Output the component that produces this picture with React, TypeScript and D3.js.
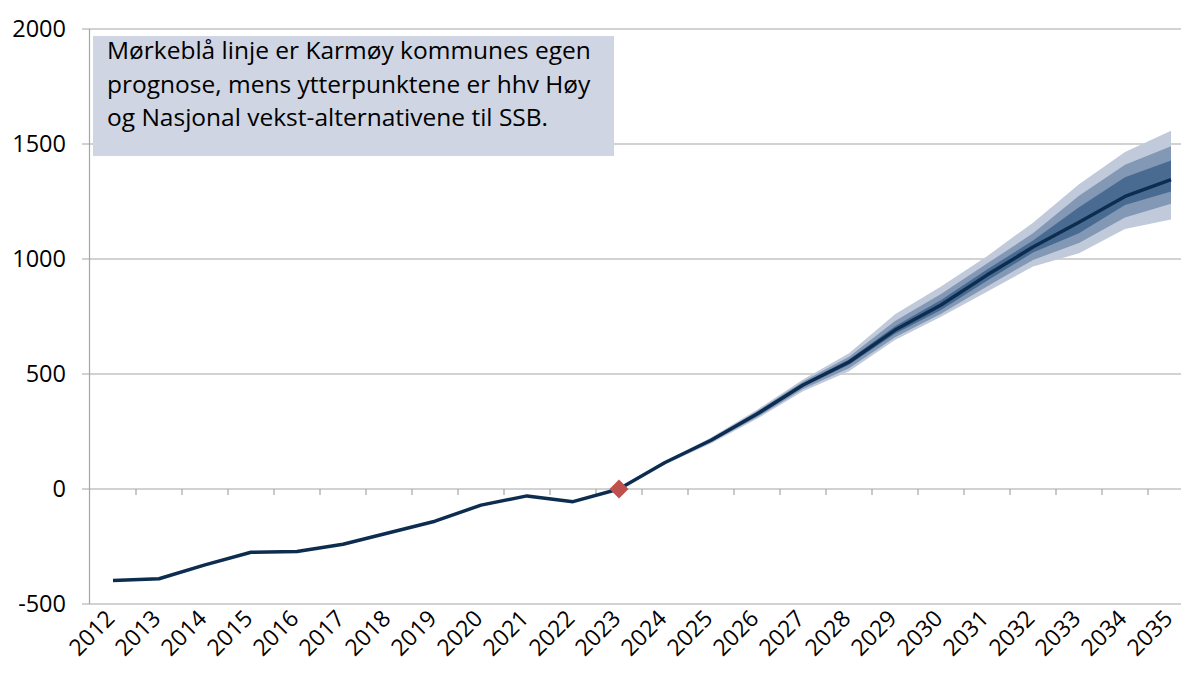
import React from "react";
import * as d3 from "d3";

const years = d3.range(2012, 2036).map(String);
const actual = [-398, -390, -330, -275, -272, -240, -190, -140, -70, -30, -55, 0];
const forecastYears = d3.range(2023, 2036).map(String);
const forecast = [0, 115, 212, 326, 452, 552, 691, 800, 930, 1052, 1160, 1272, 1345];
const outerHigh = [0, 120, 224, 345, 476, 590, 760, 880, 1012, 1158, 1325, 1465, 1558];
const midHigh = [0, 118, 219, 338, 467, 575, 730, 848, 980, 1112, 1275, 1410, 1490];
const darkHigh = [0, 116, 215, 332, 459, 563, 708, 822, 954, 1080, 1225, 1355, 1428];
const darkLow = [0, 113, 208, 320, 445, 540, 675, 778, 905, 1028, 1112, 1235, 1293];
const midLow = [0, 110, 203, 312, 435, 525, 660, 762, 880, 996, 1070, 1180, 1240];
const outerLow = [0, 107, 198, 305, 425, 512, 648, 749, 858, 967, 1025, 1130, 1172];
const yTicks = [-500, 0, 500, 1000, 1500, 2000];
const note = [
  "Mørkeblå linje er Karmøy kommunes egen",
  "prognose, mens ytterpunktene er hhv Høy",
  "og Nasjonal vekst-alternativene til SSB.",
];

const W = 1181;
const H = 677;
const font = "'Open Sans', 'Noto Sans', sans-serif";

export default function App() {
  const x = d3.scaleBand().domain(years).range([90, 90 + 24 * 46]);
  const cx = (d: string) => (x(d) as number) + x.bandwidth() / 2;
  const y = d3.scaleLinear().domain([-500, 2000]).range([604, 29]);

  const area = (lo: number[], hi: number[]) =>
    d3
      .area<string>()
      .x((d) => cx(d))
      .y0((d, i) => y(lo[i]))
      .y1((d, i) => y(hi[i]))(forecastYears) as string;

  const line = d3
    .line<[string, number]>()
    .x((d) => cx(d[0]))
    .y((d) => y(d[1]));
  const all: [string, number][] = [
    ...actual.map((v, i) => [years[i], v] as [string, number]),
    ...forecast.slice(1).map((v, i) => [forecastYears[i + 1], v] as [string, number]),
  ];

  const diamond = d3.symbol(d3.symbolDiamond2, 230)() as string;

  return (
    <svg
      width={W}
      height={H}
      style={{ position: "absolute", left: 0, top: 0, background: "#fff" }}
    >
      {yTicks.map((t) => (
        <g key={t}>
          <line x1={82} x2={W} y1={y(t)} y2={y(t)} stroke="#a6a6a6" strokeWidth={1.2} />
          <text
            x={66}
            y={y(t)}
            dy="0.35em"
            textAnchor="end"
            fontFamily={font}
            fontSize={23.5}
            fill="#000"
          >
            {t}
          </text>
        </g>
      ))}
      <line x1={89.5} x2={89.5} y1={y(2000)} y2={y(-500)} stroke="#a6a6a6" strokeWidth={1.2} />
      {years.slice(1).map((d) => (
        <line
          key={d}
          x1={x(d) as number}
          x2={x(d) as number}
          y1={y(0)}
          y2={y(0) + 6}
          stroke="#a6a6a6"
          strokeWidth={1.2}
        />
      ))}
      {years.map((d) => (
        <text
          key={d}
          transform={`translate(${cx(d) + 3},${620}) rotate(-45)`}
          textAnchor="end"
          fontFamily={font}
          fontSize={23}
          fill="#000"
        >
          {d}
        </text>
      ))}

      <path d={area(outerLow, outerHigh)} fill="#c1cadb" />
      <path d={area(midLow, midHigh)} fill="#8298b5" />
      <path d={area(darkLow, darkHigh)} fill="#4a6b91" />
      <path
        d={line(all) as string}
        fill="none"
        stroke="#0c2d50"
        strokeWidth={3.5}
        strokeLinejoin="round"
      />
      <path
        d={diamond}
        transform={`translate(${cx("2023")},${y(0)})`}
        fill="#c0504d"
      />

      <rect x={93} y={36} width={521} height={120} fill="#cfd5e2" />
      {note.map((s, i) => (
        <text
          key={i}
          x={107}
          y={59 + i * 33.5}
          fontFamily={font}
          fontSize={24.5}
          fill="#000"
        >
          {s}
        </text>
      ))}
    </svg>
  );
}
